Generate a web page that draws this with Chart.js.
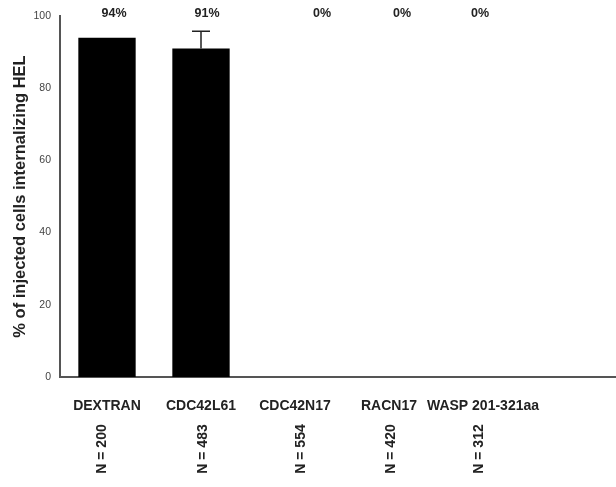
<!DOCTYPE html>
<html>
<head>
<meta charset="utf-8">
<script src="https://cdn.jsdelivr.net/npm/chart.js@4/dist/chart.umd.min.js"></script>
<style>
  html, body { margin: 0; padding: 0; background: #fff; }
  /* the plot runs a little past the right edge, so the frame crops it */
  #wrap { width: 616px; height: 487px; overflow: hidden; }
</style>
</head>
<body>
<div id="wrap"><canvas id="c" width="624" height="487"></canvas></div>
<script>
// Constructs injected into cells; the last slot is left empty as spacing
const categories = ['DEXTRAN', 'CDC42L61', 'CDC42N17', 'RACN17', 'WASP 201-321aa', ''];
const percentInternalizing = [94, 91, 0, 0, 0, null];
const errorUpper = [null, 95.8, null, null, null, null];
const percentLabels = ['94%', '91%', '0%', '0%', '0%', ''];
const cellCounts = ['N = 200', 'N = 483', 'N = 554', 'N = 420', 'N = 312', ''];
const yTicks = [0, 20, 40, 60, 80, 100];

const FONT = '"Liberation Sans", Arial, Helvetica, sans-serif';
const AXIS_COLOR = '#555';
// small horizontal nudges for the hand-placed annotation text
const pctNudge = [7, 6, 27, 13, -3, 0];
const countNudge = [-5, 2, 6, 2, -4, 0];

// Error whisker, percentage labels above the plot and rotated N counts
const annotations = {
  id: 'annotations',
  afterDatasetsDraw(chart) {
    const ctx = chart.ctx;
    const x = chart.scales.x, y = chart.scales.y;
    const meta = chart.getDatasetMeta(0);
    ctx.save();
    // error bars
    ctx.strokeStyle = '#222';
    ctx.lineWidth = 1.5;
    errorUpper.forEach((v, i) => {
      if (v == null) return;
      const bar = meta.data[i];
      const px = bar.x;
      const top = y.getPixelForValue(v);
      ctx.beginPath();
      ctx.moveTo(px, bar.y);
      ctx.lineTo(px, top);
      ctx.moveTo(px - 9, top);
      ctx.lineTo(px + 9, top);
      ctx.stroke();
    });
    // percentage labels
    ctx.fillStyle = '#222';
    ctx.font = 'bold 12.5px ' + FONT;
    ctx.textAlign = 'center';
    ctx.textBaseline = 'middle';
    percentLabels.forEach((t, i) => {
      if (!t) return;
      ctx.fillText(t, x.getPixelForValue(i) + pctNudge[i], 14);
    });
    // rotated N counts under the category names
    ctx.font = 'bold 14px ' + FONT;
    cellCounts.forEach((t, i) => {
      if (!t) return;
      ctx.save();
      ctx.translate(x.getPixelForValue(i) + countNudge[i], 449);
      ctx.rotate(-Math.PI / 2);
      ctx.textAlign = 'center';
      ctx.textBaseline = 'middle';
      ctx.fillText(t, 0, 0);
      ctx.restore();
    });
    ctx.restore();
  }
};

new Chart(document.getElementById('c'), {
  type: 'bar',
  data: {
    labels: categories,
    datasets: [{
      data: percentInternalizing,
      backgroundColor: '#000',
      borderWidth: 0,
      barPercentage: 0.61,
      categoryPercentage: 1.0
    }]
  },
  options: {
    responsive: false,
    animation: false,
    layout: { padding: { top: 16, right: 0, bottom: 0, left: 0 } },
    plugins: {
      legend: { display: false },
      tooltip: { enabled: false }
    },
    scales: {
      x: {
        grid: { display: false, drawTicks: false },
        border: { color: AXIS_COLOR, width: 2 },
        ticks: {
          color: '#222',
          font: { family: FONT, size: 14, weight: 'bold' },
          padding: 21,
          maxRotation: 0,
          autoSkip: false
        },
        afterFit(scale) { scale.height = 110; }
      },
      y: {
        min: 0,
        max: 100,
        afterBuildTicks(scale) { scale.ticks = yTicks.map(v => ({ value: v })); },
        grid: { display: false, drawTicks: true, tickLength: 8, tickColor: AXIS_COLOR, tickWidth: 1 },
        border: { color: AXIS_COLOR, width: 2 },
        ticks: {
          color: '#444',
          font: { family: FONT, size: 10.5 },
          padding: 1
        },
        title: {
          display: true,
          text: '% of injected cells internalizing HEL',
          color: '#222',
          font: { family: FONT, size: 16.5, weight: 'bold' },
          padding: { top: 11, bottom: 4 }
        },
        afterFit(scale) { scale.width = 60; }
      }
    }
  },
  plugins: [annotations]
});
</script>
</body>
</html>
